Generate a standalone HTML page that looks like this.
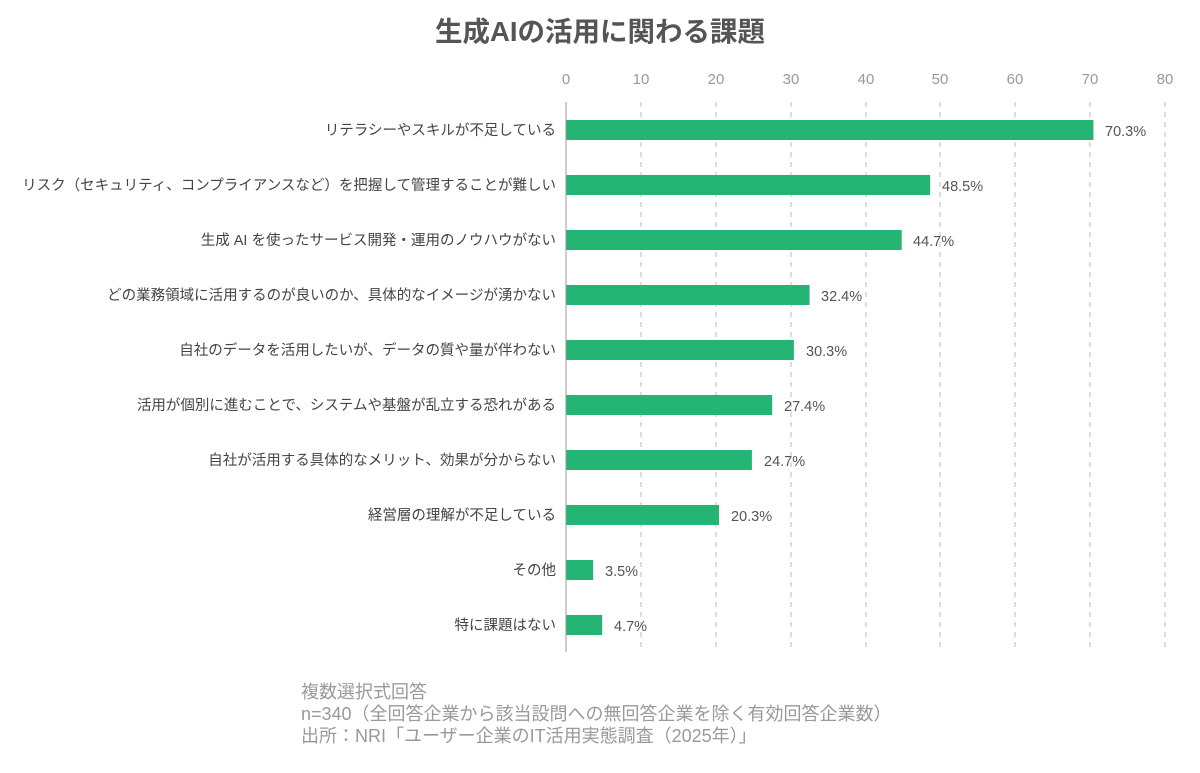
<!DOCTYPE html>
<html><head><meta charset="utf-8"><style>
body{margin:0;background:#fff}
svg text{font-family:"Liberation Sans","Noto Sans CJK JP",sans-serif}
</style></head><body>
<svg width="1200" height="768" viewBox="0 0 1200 768" xmlns="http://www.w3.org/2000/svg">
<rect width="1200" height="768" fill="#fff"/>
<text x="600" y="41" text-anchor="middle" font-size="27.5" font-weight="bold" fill="#555">生成AIの活用に関わる課題</text>
<g font-size="15" fill="#999" text-anchor="middle">
<text x="566" y="84">0</text><text x="641" y="84">10</text><text x="716" y="84">20</text><text x="791" y="84">30</text><text x="866" y="84">40</text><text x="940" y="84">50</text><text x="1015" y="84">60</text><text x="1090" y="84">70</text><text x="1165" y="84">80</text>
</g>
<g stroke="#bbb" stroke-width="1" stroke-dasharray="5,5">
<line x1="641" y1="102" x2="641" y2="652"/><line x1="716" y1="102" x2="716" y2="652"/><line x1="791" y1="102" x2="791" y2="652"/><line x1="866" y1="102" x2="866" y2="652"/><line x1="940" y1="102" x2="940" y2="652"/><line x1="1015" y1="102" x2="1015" y2="652"/><line x1="1090" y1="102" x2="1090" y2="652"/><line x1="1165" y1="102" x2="1165" y2="652"/>
</g>
<g fill="#24b574">
<rect x="566" y="120" width="527.4" height="20"/>
<rect x="566" y="175" width="364.1" height="20"/>
<rect x="566" y="230" width="335.7" height="20"/>
<rect x="566" y="285" width="243.6" height="20"/>
<rect x="566" y="340" width="227.9" height="20"/>
<rect x="566" y="395" width="206.2" height="20"/>
<rect x="566" y="450" width="185.9" height="20"/>
<rect x="566" y="505" width="153.0" height="20"/>
<rect x="566" y="560" width="27.2" height="20"/>
<rect x="566" y="615" width="36.2" height="20"/>
</g>
<line x1="566" y1="102" x2="566" y2="652" stroke="#999" stroke-width="1"/>
<g font-size="14.5" fill="#555">
<text x="1105" y="136">70.3%</text>
<text x="942" y="191">48.5%</text>
<text x="913" y="246">44.7%</text>
<text x="821" y="301">32.4%</text>
<text x="806" y="356">30.3%</text>
<text x="784" y="411">27.4%</text>
<text x="764" y="466">24.7%</text>
<text x="731" y="521">20.3%</text>
<text x="605" y="576">3.5%</text>
<text x="614" y="631">4.7%</text>
</g>
<g font-size="14.5" fill="#444" text-anchor="end">
<text x="556" y="135">リテラシーやスキルが不足している</text>
<text x="556" y="190">リスク（セキュリティ、コンプライアンスなど）を把握して管理することが難しい</text>
<text x="556" y="245">生成 AI を使ったサービス開発・運用のノウハウがない</text>
<text x="556" y="300">どの業務領域に活用するのが良いのか、具体的なイメージが湧かない</text>
<text x="556" y="355">自社のデータを活用したいが、データの質や量が伴わない</text>
<text x="556" y="410">活用が個別に進むことで、システムや基盤が乱立する恐れがある</text>
<text x="556" y="465">自社が活用する具体的なメリット、効果が分からない</text>
<text x="556" y="520">経営層の理解が不足している</text>
<text x="556" y="575">その他</text>
<text x="556" y="630">特に課題はない</text>
</g>
<g font-size="18" fill="#999">
<text x="301" y="698">複数選択式回答</text>
<text x="301" y="720">n=340（全回答企業から該当設問への無回答企業を除く有効回答企業数）</text>
<text x="301" y="742">出所：NRI「ユーザー企業のIT活用実態調査（2025年）」</text>
</g>
</svg>
</body></html>
